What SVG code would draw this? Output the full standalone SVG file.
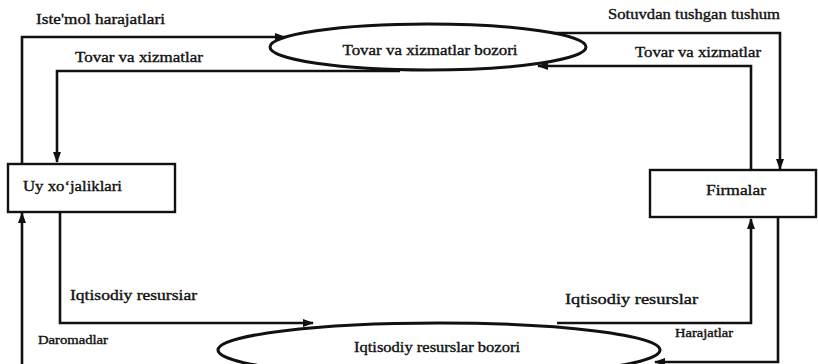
<svg xmlns="http://www.w3.org/2000/svg" width="818" height="364" viewBox="0 0 818 364">
<style>
text{font-family:"Liberation Serif","Times New Roman",serif;font-size:14px;fill:#111;stroke:#111;stroke-width:0.35}
.sm{font-size:12px}
.box{fill:#fff;stroke:#111;stroke-width:2.4}
.ell{fill:#fff;stroke:#111;stroke-width:3}
.ln{fill:none;stroke:#111;stroke-width:2.6}
</style>
<defs>
<marker id="ah" markerWidth="11" markerHeight="8" refX="10" refY="4" orient="auto" markerUnits="userSpaceOnUse">
<path d="M0,0 L11,4 L0,8 Z" fill="#111"/>
</marker>
</defs>
<rect width="818" height="364" fill="#fff"/>
<g id="connectors">
<path class="ln" d="M22,164 V37 H285" marker-end="url(#ah)"/>
<path class="ln" d="M400,71 H57 V162" marker-end="url(#ah)"/>
<path class="ln" d="M545,33 H780 V169" marker-end="url(#ah)"/>
<path class="ln" d="M751,170 V66 H538" marker-end="url(#ah)"/>
<path class="ln" d="M60,212 V323 H313" marker-end="url(#ah)"/>
<path class="ln" d="M557,323 H751 V219" marker-end="url(#ah)"/>
<path class="ln" d="M778,217 V362 H655" marker-end="url(#ah)"/>
<path class="ln" d="M22,364 V213" marker-end="url(#ah)"/>
</g>
<g id="market-goods">
<ellipse class="ell" cx="428" cy="47" rx="158" ry="23"/>
<text x="430" y="55" text-anchor="middle" textLength="175" lengthAdjust="spacingAndGlyphs">Tovar va xizmatlar bozori</text>
</g>
<g id="market-resources">
<ellipse class="ell" cx="439" cy="350" rx="221" ry="27"/>
<text x="437" y="352" text-anchor="middle" textLength="166" lengthAdjust="spacingAndGlyphs">Iqtisodiy resurslar bozori</text>
</g>
<g id="households">
<rect class="box" x="8" y="164" width="167" height="48"/>
<text x="23" y="191" textLength="99" lengthAdjust="spacingAndGlyphs">Uy xo‘jaliklari</text>
</g>
<g id="firms">
<rect class="box" x="650" y="170" width="166" height="47"/>
<text x="706" y="195" textLength="60" lengthAdjust="spacingAndGlyphs">Firmalar</text>
</g>
<g id="labels">
<text x="36" y="24" textLength="129" lengthAdjust="spacingAndGlyphs">Iste'mol harajatlari</text>
<text x="608" y="19" textLength="172" lengthAdjust="spacingAndGlyphs">Sotuvdan tushgan tushum</text>
<text x="75" y="62" textLength="128" lengthAdjust="spacingAndGlyphs">Tovar va xizmatlar</text>
<text x="635" y="57" textLength="126" lengthAdjust="spacingAndGlyphs">Tovar va xizmatlar</text>
<text x="70" y="300" textLength="127" lengthAdjust="spacingAndGlyphs">Iqtisodiy resursiar</text>
<text x="565" y="304" textLength="133" lengthAdjust="spacingAndGlyphs">Iqtisodiy resurslar</text>
<text class="sm" x="38" y="344" textLength="70" lengthAdjust="spacingAndGlyphs">Daromadlar</text>
<text class="sm" x="675" y="337" textLength="58" lengthAdjust="spacingAndGlyphs">Harajatlar</text>
</g>
</svg>
